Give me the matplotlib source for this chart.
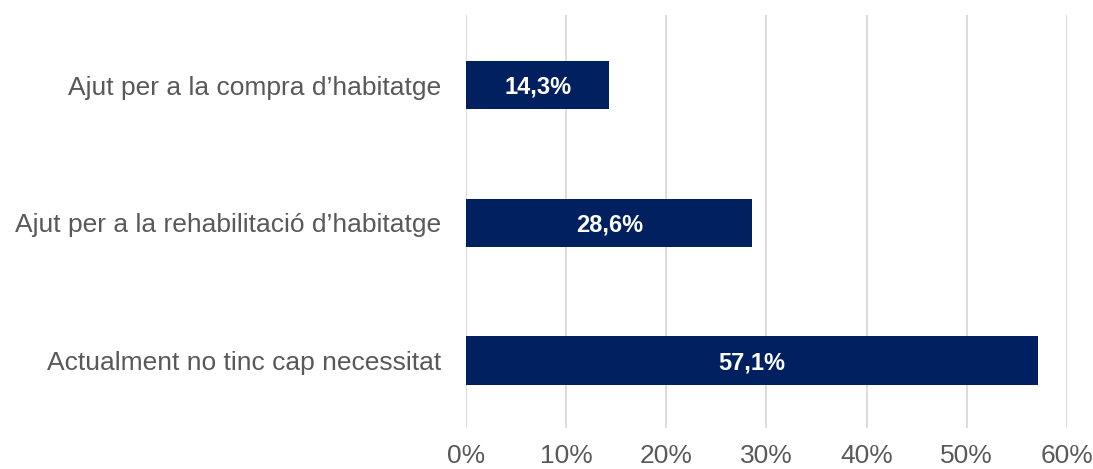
import matplotlib
matplotlib.use("Agg")
import matplotlib.pyplot as plt
from matplotlib.ticker import FuncFormatter

categories = [
    "Ajut per a la compra d\u2019habitatge",
    "Ajut per a la rehabilitaci\u00f3 d\u2019habitatge",
    "Actualment no tinc cap necessitat",
]
values = [14.3, 28.6, 57.1]
x_ticks = [0, 10, 20, 30, 40, 50, 60]

plt.rcParams["font.family"] = ["Liberation Sans", "DejaVu Sans"]

fig = plt.figure(figsize=(10.93, 4.69), dpi=100)
ax = fig.add_axes([0.4263, 0.0874, 0.5499, 0.8806])

pos = list(range(len(categories)))
bars = ax.barh(pos, values, height=0.35, color="#002060", zorder=3)

for b, v in zip(bars, values):
    ax.text(v / 2, b.get_y() + b.get_height() / 2 + 0.015,
            f"{v:.1f}%".replace(".", ","),
            ha="center", va="center", color="white",
            fontsize=17, fontweight="bold", zorder=4)

ax.set_xlim(0, 60)
ax.set_ylim(2.49, -0.51)
ax.set_xticks(x_ticks)
ax.xaxis.set_major_formatter(FuncFormatter(lambda x, _: f"{x:.0f}%"))
ax.set_yticks(pos)
ax.set_yticklabels(categories)

ax.grid(axis="x", color="#D9D9D9", linewidth=1.3, zorder=0)
for s in ax.spines.values():
    s.set_visible(False)
ax.tick_params(axis="both", length=0, labelsize=19, colors="#595959")
ax.tick_params(axis="x", pad=11.5)
ax.tick_params(axis="y", pad=18)

fig.savefig("out.png", dpi=100, facecolor="white")
